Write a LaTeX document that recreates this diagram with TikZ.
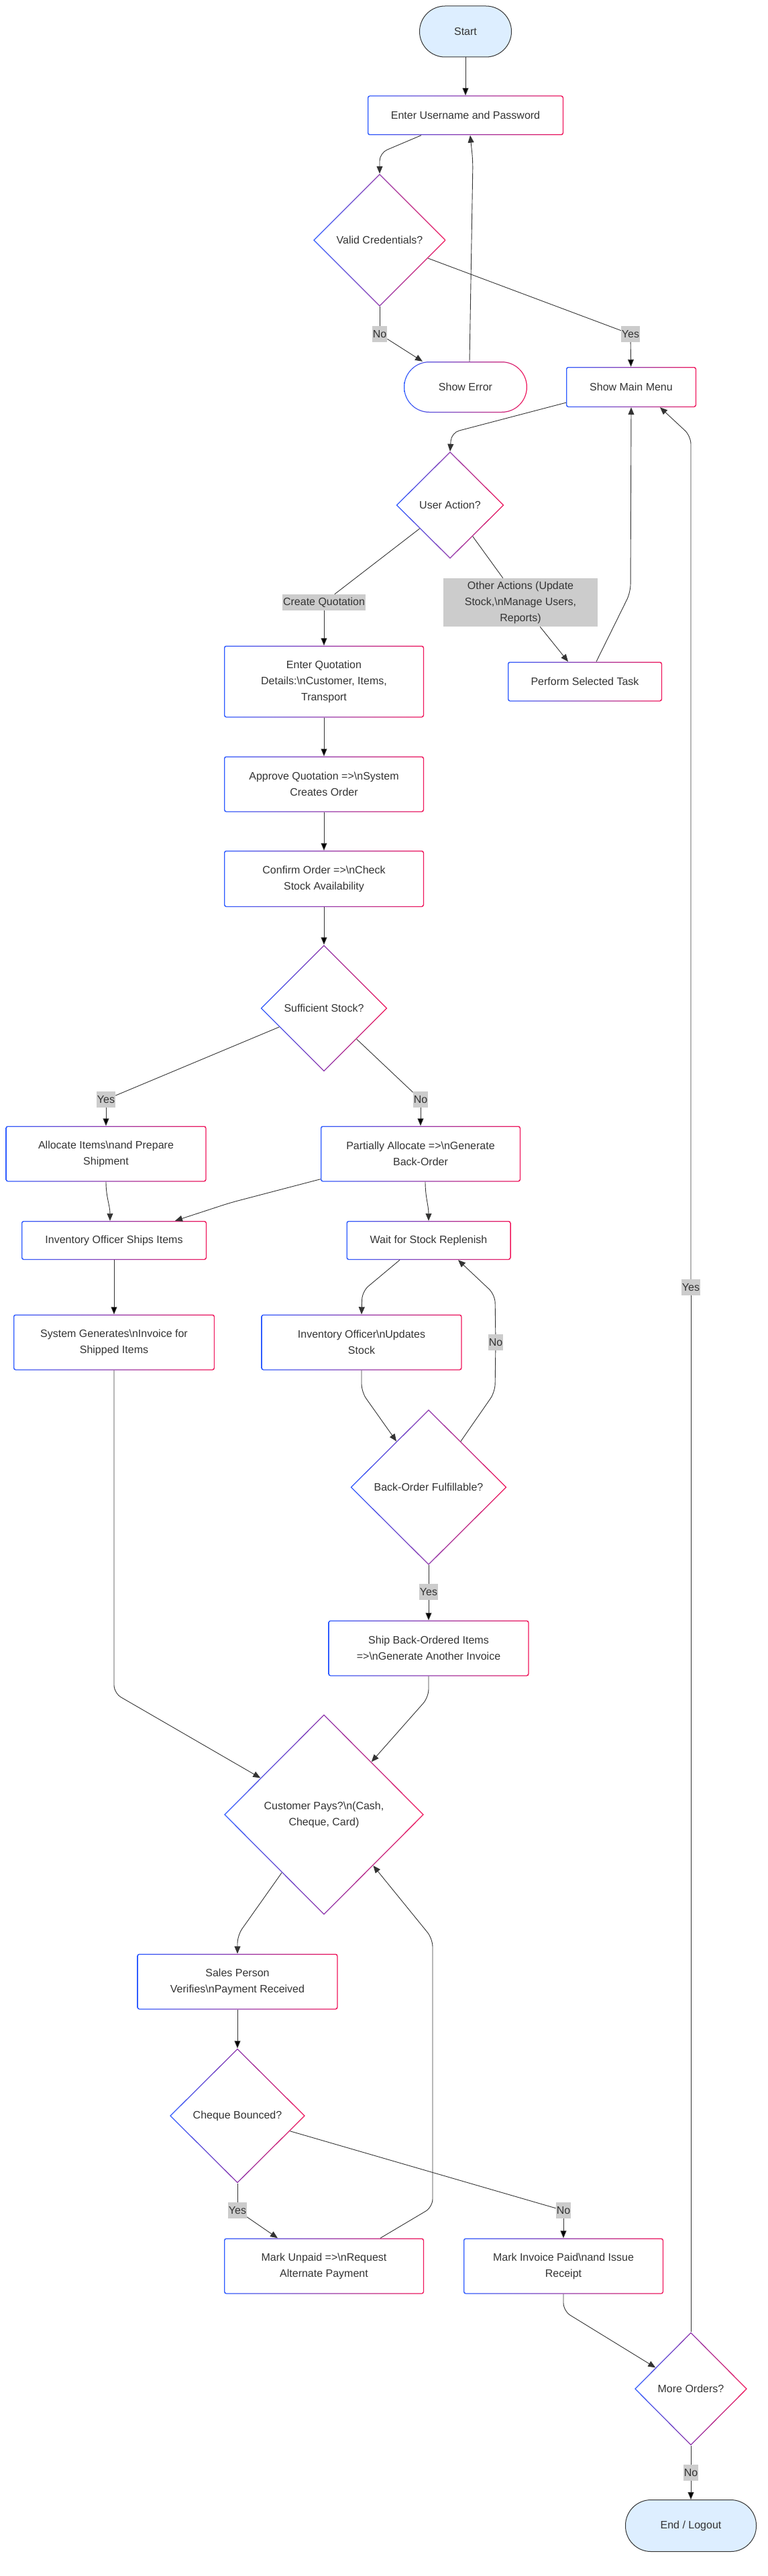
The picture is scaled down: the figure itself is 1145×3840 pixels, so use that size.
\documentclass[tikz,border=0pt]{standalone}
\usepackage{fontspec}
\setmainfont{Liberation Sans}
\usetikzlibrary{positioning, shapes.geometric, arrows.meta}

\definecolor{gblue}{HTML}{2E5BFF}
\definecolor{gpink}{HTML}{F0155A}
\definecolor{txtgray}{HTML}{333333}
\definecolor{pillfill}{HTML}{DDEEFF}
\definecolor{lblfill}{HTML}{CCCCCC}

% gradient outline of a box / a diamond, drawn inside the node
\newcommand\boxring[2]{%
  \shade[left color=gblue, right color=gpink, even odd rule]
    (path picture bounding box.south west) rectangle (path picture bounding box.north east)
    [rounded corners=#2] ([shift={(#1,#1)}]path picture bounding box.south west)
    rectangle ([shift={(-#1,-#1)}]path picture bounding box.north east);}
\newcommand\rhombring[1]{%
  \shade[left color=gblue, right color=gpink, even odd rule]
    (path picture bounding box.north) -- (path picture bounding box.east)
    -- (path picture bounding box.south) -- (path picture bounding box.west) -- cycle
    ([yshift=-#1]path picture bounding box.north) -- ([xshift=-#1]path picture bounding box.east)
    -- ([yshift=#1]path picture bounding box.south) -- ([xshift=#1]path picture bounding box.west) -- cycle;}

\tikzset{
  every node/.style={font=\fontsize{16}{24}\selectfont, text=txtgray, align=center, inner sep=0pt},
  procbox/.style={rectangle, rounded corners=3pt, fill=white, path picture={\boxring{1.25pt}{1.8pt}}},
  errpill/.style={rectangle, rounded corners=38pt, fill=white, path picture={\boxring{1.25pt}{36.5pt}}},
  decision/.style={diamond, aspect=1, fill=white, path picture={\rhombring{1.8pt}}},
  terminal/.style={rectangle, rounded corners=38pt, draw=txtgray, fill=pillfill, line width=1pt},
  elabel/.style={fill=lblfill, inner xsep=1pt, minimum height=24pt},
  flow/.style={draw=txtgray, line width=0.9pt, rounded corners=12pt},
  arr/.style={flow, -{Triangle[length=11pt,width=9pt]}},
}

\begin{document}
\begin{tikzpicture}[x=1pt, y=-1pt]
\useasboundingbox[fill=white] (0,0) rectangle (1145,3840);

% login
\draw (694,47) node[terminal, minimum width=137pt, minimum height=76pt](start){Start}
      (694,172) node[procbox, minimum width=292pt, minimum height=59pt](enter){Enter Username and Password}
      (566,358) node[decision, minimum width=198pt, minimum height=198pt](valid){Valid Credentials?}
      (694,577) node[errpill, minimum width=184pt, minimum height=76pt](showerr){Show Error}
      (941,577) node[procbox, minimum width=194pt, minimum height=60pt](mainmenu){Show Main Menu};

% menu
\draw (671,753) node[decision, minimum width=161pt, minimum height=160pt](useract){User Action?}
      (483,1016) node[procbox, minimum width=298pt, minimum height=107pt](enterquot){Enter Quotation\\Details:\textbackslash nCustomer, Items,\\Transport}
      (872,1016) node[procbox, minimum width=230pt, minimum height=59pt](perform){Perform Selected Task}
      (483,1169) node[procbox, minimum width=298pt, minimum height=83pt](approve){Approve Quotation =>\textbackslash nSystem\\Creates Order}
      (483,1310) node[procbox, minimum width=298pt, minimum height=84pt](confirm){Confirm Order =>\textbackslash nCheck\\Stock Availability}
      (483,1503) node[decision, minimum width=189pt, minimum height=189pt](suffstock){Sufficient Stock?};

% stock
\draw (158,1720) node[procbox, minimum width=299pt, minimum height=83pt](allocate){Allocate Items\textbackslash nand Prepare\\Shipment}
      (627,1720) node[procbox, minimum width=298pt, minimum height=83pt](partial){Partially Allocate =>\textbackslash nGenerate\\Back-Order}
      (170,1849) node[procbox, minimum width=276pt, minimum height=58pt](ships){Inventory Officer Ships Items}
      (639,1849) node[procbox, minimum width=245pt, minimum height=58pt](waitstock){Wait for Stock Replenish}
      (170,2001) node[procbox, minimum width=300pt, minimum height=83pt](sysinv){System Generates\textbackslash nInvoice for\\Shipped Items}
      (539,2001) node[procbox, minimum width=299pt, minimum height=83pt](updstock){Inventory Officer\textbackslash nUpdates\\Stock}
      (639,2217) node[decision, minimum width=233pt, minimum height=232pt](backord){Back-Order Fulfillable?}
      (639,2457) node[procbox, minimum width=299pt, minimum height=83pt](shipback){Ship Back-Ordered Items\\=>\textbackslash nGenerate Another Invoice};

% payment
\draw (483,2705) node[decision, minimum width=298pt, minimum height=299pt](custpays){Customer Pays?\textbackslash n(Cash,\\Cheque, Card)}
      (354,2954) node[procbox, minimum width=299pt, minimum height=83pt](salesver){Sales Person\\Verifies\textbackslash nPayment Received}
      (354,3154) node[decision, minimum width=202pt, minimum height=201pt](chqbounce){Cheque Bounced?}
      (483,3378) node[procbox, minimum width=298pt, minimum height=83pt](markunpaid){Mark Unpaid =>\textbackslash nRequest\\Alternate Payment}
      (840,3378) node[procbox, minimum width=298pt, minimum height=83pt](markpaid){Mark Invoice Paid\textbackslash nand Issue\\Receipt}
      (1030,3561) node[decision, minimum width=168pt, minimum height=169pt](moreord){More Orders?}
      (1030,3765) node[terminal, minimum width=195pt, minimum height=77pt](endnode){End / Logout};

% edge labels
\draw (566,498) node[elabel](lblNo1){No}
      (940,498) node[elabel](lblYes1){Yes}
      (483,898) node[elabel](lblCreate){Create Quotation}
      (776,898) node[elabel, minimum width=230pt, minimum height=72pt](lblOther){Other Actions (Update\\Stock,\textbackslash nManage Users,\\Reports)}
      (158,1639) node[elabel](lblYes2){Yes}
      (627,1639) node[elabel](lblNo2){No}
      (739,2001) node[elabel](lblNo3){No}
      (1030,1919) node[elabel](lblYes3){Yes}
      (639,2373) node[elabel](lblYes4){Yes}
      (354,3295) node[elabel](lblYes5){Yes}
      (840,3295) node[elabel](lblNo5){No}
      (1030,3686) node[elabel](lblNo6){No};

\path[flow]
    (valid) edge (lblNo1)
    (valid) edge (lblYes1)
    (useract) edge (lblCreate)
    (useract) edge (lblOther)
    (suffstock) edge (lblYes2)
    (suffstock) edge (lblNo2)
    (backord) edge (lblYes4)
    (chqbounce) edge (lblYes5)
    (chqbounce) edge (lblNo5)
    (moreord) edge (lblYes3)
    (moreord) edge (lblNo6);
\path[arr]
    (start) edge (enter)
    (lblYes1) edge (mainmenu)
    (lblCreate) edge (enterquot)
    (enterquot) edge (approve)
    (approve) edge (confirm)
    (confirm) edge (suffstock)
    (lblYes2) edge (allocate)
    (lblNo2) edge (partial)
    (ships) edge (sysinv)
    (lblYes4) edge (shipback)
    (salesver) edge (chqbounce)
    (lblNo5) edge (markpaid)
    (lblNo6) edge (endnode);

\draw[arr] ([xshift=-66pt]enter.south) -- (566,228) -- (valid.north);
\draw[arr] (lblNo1) -- ([xshift=-64pt]showerr.north);
\draw[arr] ([xshift=6pt]showerr.north) -- (705,240) -- ([xshift=7pt]enter.south);
\draw[arr] ([yshift=7pt]mainmenu.south west) -- (673,645) -- (useract.north);
\draw[arr] (lblOther) -- ([xshift=-25pt]perform.north);
\draw[arr] ([xshift=17pt]perform.north) -- (940,883) -- (mainmenu.south);
\draw[arr] (allocate.south) to[out=-90,in=90] ([xshift=-6pt]ships.north);
\draw[arr] ([yshift=4pt]partial.south west) -- (343,1793) -- ([xshift=91pt]ships.north);
\draw[arr] ([xshift=7pt]partial.south) to[out=-90,in=90] (waitstock.north);
\draw[arr] ([xshift=-43pt]waitstock.south) -- (540,1925) -- (updstock.north);
\draw[arr] (updstock.south) -- (539,2075) -- (backord.125);
\draw[flow] (backord.55) -- (738,2075) -- (lblNo3);
\draw[arr] (lblNo3) -- (738,1930) -- ([xshift=44pt]waitstock.south);
\draw[arr] (sysinv.south) -- (170,2524) -- (custpays.150);
\draw[arr] (shipback.south) -- (639,2530) -- (custpays.48);
\draw[arr] (custpays.234) -- (354,2885) -- (salesver.north);
\draw[arr] (lblYes5) -- ([xshift=-69pt]markunpaid.north);
\draw[arr] ([xshift=84pt]markunpaid.north) -- (645,3290) -- (645,2890) -- (custpays.-46);
\draw[arr] (markpaid.south) -- (840,3445) -- (moreord.149);
\draw[arr] (lblYes3) -- (1030,650) -- ([xshift=43pt]mainmenu.south);
\end{tikzpicture}
\end{document}
